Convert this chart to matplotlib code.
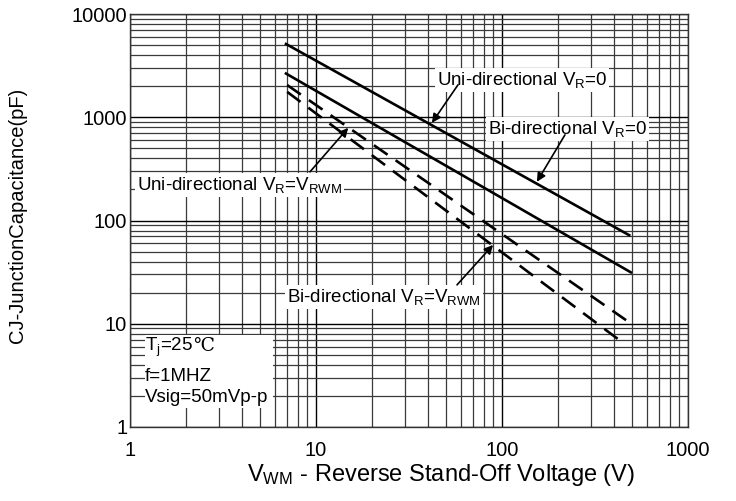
import matplotlib
matplotlib.use('Agg')
import matplotlib.pyplot as plt
from matplotlib.patches import Rectangle
from matplotlib.ticker import LogLocator, NullFormatter, FixedLocator, FixedFormatter

plt.rcParams['font.family'] = ['Liberation Sans', 'DejaVu Sans']
plt.rcParams['mathtext.fontset'] = 'custom'
plt.rcParams['mathtext.rm'] = 'Liberation Sans'
plt.rcParams['mathtext.it'] = 'Liberation Sans:italic'

# straight lines on log-log axes, read at both ends (V, pF)
uni_vr0_v = [6.8, 490]
uni_vr0_c = [5200, 71]
bi_vr0_v = [6.8, 500]
bi_vr0_c = [2690, 31]
uni_vrwm_v = [7.0, 480]
uni_vrwm_c = [2050, 10.4]
bi_vrwm_v = [7.0, 425]
bi_vrwm_c = [1760, 7.0]

x_ticks = [1, 10, 100, 1000]
x_labels = ['1', '10', '100', '1000']
y_ticks = [1, 10, 100, 1000, 10000]
y_labels = ['1', '10', '100', '1000', '10000']

fig = plt.figure(figsize=(7.36, 5.01), dpi=100)
ax = fig.add_axes([130 / 736, 74 / 501, 558 / 736, 413 / 501])
ax.set_xscale('log')
ax.set_yscale('log')
ax.set_xlim(1, 1000)
ax.set_ylim(1, 10000)

ax.xaxis.set_major_locator(FixedLocator(x_ticks))
ax.xaxis.set_major_formatter(FixedFormatter(x_labels))
ax.yaxis.set_major_locator(FixedLocator(y_ticks))
ax.yaxis.set_major_formatter(FixedFormatter(y_labels))
ax.xaxis.set_minor_locator(LogLocator(base=10, subs=range(2, 10)))
ax.yaxis.set_minor_locator(LogLocator(base=10, subs=range(2, 10)))
ax.xaxis.set_minor_formatter(NullFormatter())
ax.yaxis.set_minor_formatter(NullFormatter())
ax.tick_params(which='both', length=0)
ax.tick_params(axis='x', pad=10, labelsize=14.5)
ax.tick_params(axis='y', pad=2, labelsize=14.5)

ax.grid(which='major', color='black', lw=1.0)
ax.grid(which='minor', color='#3a3a3a', lw=0.9)
ax.set_axisbelow(True)
for s in ax.spines.values():
    s.set_color('#333333')
    s.set_linewidth(1.0)

lw = 1.9
ax.plot(uni_vr0_v, uni_vr0_c, color='black', lw=lw, solid_capstyle='butt', zorder=3)
ax.plot(bi_vr0_v, bi_vr0_c, color='black', lw=lw, solid_capstyle='butt', zorder=3)
ax.plot(uni_vrwm_v, uni_vrwm_c, color='black', lw=lw, dashes=(6.3, 3.7), zorder=3)
ax.plot(bi_vrwm_v, bi_vrwm_c, color='black', lw=lw, dashes=(6.3, 3.7), zorder=3)

box = dict(facecolor='white', edgecolor='none', pad=1.5)
fs = 13.5
ax.text(44.7, 2300, r'Uni-directional V$_\mathrm{R}$=0', fontsize=fs, ha='left', va='center', bbox=box, zorder=4)
ax.text(84, 772, r'Bi-directional V$_\mathrm{R}$=0', fontsize=fs, ha='left', va='center', bbox=box, zorder=4)
ax.text(1.09, 221, r'Uni-directional V$_\mathrm{R}$=V$_\mathrm{RWM}$', fontsize=fs, ha='left', va='center', bbox=box, zorder=4)
ax.text(6.98, 18.2, r'Bi-directional V$_\mathrm{R}$=V$_\mathrm{RWM}$', fontsize=fs, ha='left', va='center', bbox=box, zorder=4)

# test conditions box
ax.add_patch(Rectangle((1.204, 1.53), 5.87 - 1.204, 7.79 - 1.53, facecolor='white',
                       edgecolor='none', zorder=3.5))
tj = ax.text(1.2, 5.45, r'T$_\mathrm{j}$=25', fontsize=fs, ha='left', va='baseline', zorder=4)
ax.annotate('\u2103', xy=(1, 5.45), xycoords=(tj, 'data'), fontsize=fs, ha='left', va='baseline',
            family=['DejaVu Serif', 'DejaVu Sans'], zorder=4)
ax.text(1.2, 2.79, 'f=1MHZ', fontsize=fs, ha='left', va='baseline', zorder=4)
ax.text(1.2, 1.75, 'Vsig=50mVp-p', fontsize=fs, ha='left', va='baseline', zorder=4)

arrow = dict(arrowstyle='-|>', color='black', lw=1.2, mutation_scale=13, shrinkA=0, shrinkB=0)
ax.annotate('', xy=(42, 883), xytext=(58, 2060), arrowprops=arrow, zorder=5)
ax.annotate('', xy=(154, 237), xytext=(218, 675), arrowprops=arrow, zorder=5)
ax.annotate('', xy=(14.9, 789), xytext=(9.28, 296), arrowprops=arrow, zorder=5)
ax.annotate('', xy=(89.5, 58), xytext=(57.3, 23.8), arrowprops=arrow, zorder=5)

fig.text(441 / 736, 1 - 475 / 501, r'V$_\mathrm{WM}$ - Reverse Stand-Off Voltage (V)', fontsize=17,
         ha='center', va='center')
fig.text(18 / 736, 1 - 215 / 501, 'CJ-JunctionCapacitance(pF)', fontsize=14.5, rotation=90,
         ha='center', va='center')

fig.savefig('out.png', dpi=100)
